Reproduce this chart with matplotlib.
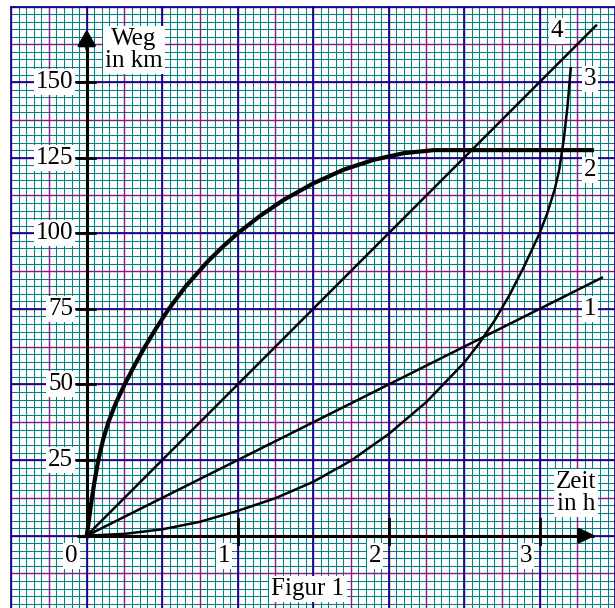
import numpy as np
import matplotlib.pyplot as plt

plt.rcParams['font.family'] = ['Liberation Serif', 'DejaVu Serif']

# Weg-Zeit-Kurven (Zeit in h, Weg in km)
t1 = [0, 3.42]
s1 = [0, 85.5]
t2 = [0, 0.008, 0.02, 0.035, 0.055, 0.077, 0.11, 0.143, 0.19, 0.254, 0.32, 0.386,
      0.46, 0.541, 0.658, 0.8, 0.9, 1.0, 1.15, 1.3, 1.5, 1.7, 1.9, 2.1,
      2.3, 2.45, 3.36]
s2 = [0, 2.5, 7.2, 12.6, 18.9, 25, 32, 37.4, 43.5, 50.3, 56.6, 62.5,
      68.6, 74.8, 82.6, 90.6, 95.5, 100, 105.8, 110.9, 116.5, 121, 124.3, 126.5,
      127.5, 127.5, 127.5]
t3 = [0, 0.25, 0.5, 0.75, 1.0, 1.25, 1.5, 1.75, 2.0, 2.25, 2.5, 2.6, 2.7, 2.8,
      2.9, 3.0, 3.05, 3.1, 3.13, 3.16, 3.185, 3.207]
s3 = [0, 0.6, 2.1, 4.6, 8.2, 12.4, 17.8, 24.8, 33.6, 44.2, 57.2, 63.6, 71, 79.5,
      89.3, 100, 106.5, 114.5, 121, 131, 142, 155]
t4 = [0, 3.38]
s4 = [0, 169]

curve_names = ['1', '2', '3', '4']
name_pos = [(3.333, 75), (3.333, 121), (3.333, 151), (3.115, 167)]

xticks = [1, 2, 3]
yticks = [25, 50, 75, 100, 125, 150]

fig = plt.figure(figsize=(6.15, 6.08), dpi=100)
ax = fig.add_axes([0, 0, 1, 1])
ax.set_xlim(-0.5742, 3.4995)
ax.set_ylim(-23.91, 177.15)
ax.axis('off')

# Millimeterpapier
x0, x1, y0, y1 = -0.5, 3.6, -30, 175
for x in np.arange(x0, x1, 0.05):
    ax.plot([x, x], [y0, y1], color='#008080', lw=0.75, zorder=1)
for y in np.arange(y0, y1 + 0.1, 2.5):
    ax.plot([x0, x1], [y, y], color='#008080', lw=0.75, zorder=1)
for x in np.arange(x0, x1, 0.25):
    ax.plot([x, x], [y0, y1], color='#8a1a8a', lw=1.0, zorder=2)
for y in np.arange(y0 + 5, y1 + 0.1, 12.5):
    ax.plot([x0, x1], [y, y], color='#8a1a8a', lw=1.0, zorder=2)
for x in np.arange(x0, x1, 0.5):
    ax.plot([x, x], [y0, y1], color='#000088', lw=1.2, zorder=3)
for y in np.arange(-25, y1 + 0.1, 25):
    ax.plot([x0, x1], [y, y], color='#000088', lw=1.2, zorder=3)

# Achsen
ax.plot([-0.064, 3.36], [0, 0], color='k', lw=2.2, zorder=5, solid_capstyle='butt')
ax.plot([0, 0], [-0.8, 165], color='k', lw=2.2, zorder=5, solid_capstyle='butt')
ax.annotate('', xy=(3.388, 0), xytext=(3.3, 0),
            arrowprops=dict(arrowstyle='-|>,head_length=0.95,head_width=0.45',
                            mutation_scale=10, color='k', lw=2.2), zorder=6)
ax.annotate('', xy=(0, 168.3), xytext=(0, 160),
            arrowprops=dict(arrowstyle='-|>,head_length=0.95,head_width=0.55',
                            mutation_scale=10, color='k', lw=2.2), zorder=6)

box = dict(boxstyle='square,pad=0.08', facecolor='white', edgecolor='none')
fs = 18
for xt in xticks:
    ax.plot([xt, xt], [-2.7, 5.5], color='k', lw=2.0, zorder=5)
    ax.text(xt - 0.05, -6.7, str(xt), ha='right', va='center', fontsize=fs,
            bbox=box, zorder=7)
ax.text(-0.06, -6.7, '0', ha='right', va='center', fontsize=fs, bbox=box, zorder=7)
for yt in yticks:
    ax.plot([-0.064, 0.055], [yt, yt], color='k', lw=2.0, zorder=5)
    ax.text(-0.09, yt, str(yt), ha='right', va='center', fontsize=fs,
            bbox=box, zorder=7)

# Kurven
ax.plot(t1, s1, color='k', lw=1.8, zorder=8, solid_capstyle='butt')
ax.plot(t2, s2, color='k', lw=3.0, zorder=8, solid_capstyle='butt')
ax.plot(t3, s3, color='k', lw=1.8, zorder=8, solid_capstyle='butt')
ax.plot(t4, s4, color='k', lw=1.8, zorder=8, solid_capstyle='butt')

for name, (tx, sy) in zip(curve_names, name_pos):
    ax.text(tx, sy, name, ha='center', va='center', fontsize=fs, bbox=box, zorder=7)

ax.text(0.313, 160.6, 'Weg\nin km', ha='center', va='center', fontsize=fs,
        linespacing=1.05, bbox=box, zorder=7)
ax.text(3.241, 14.1, 'Zeit\nin h', ha='center', va='center', fontsize=fs,
        linespacing=1.05, bbox=box, zorder=7)
ax.text(1.466, -17.7, 'Figur 1', ha='center', va='center', fontsize=fs,
        bbox=box, zorder=7)

fig.savefig('out.png', dpi=100)
